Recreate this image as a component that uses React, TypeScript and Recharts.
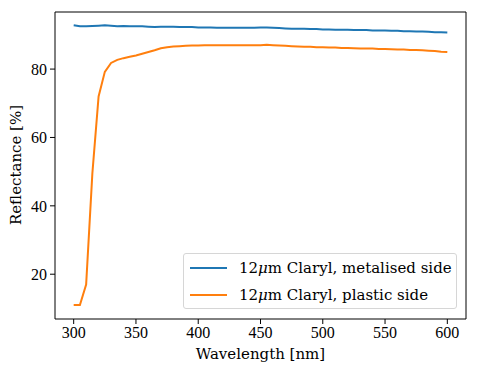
import React from 'react';
import { LineChart, Line, XAxis, YAxis, ReferenceLine } from 'recharts';

const wavelengths = [
  300, 305, 310, 315, 320, 325, 330, 335, 340, 345, 350, 355, 360, 365, 370, 375, 380, 385, 390, 395,
  400, 405, 410, 415, 420, 425, 430, 435, 440, 445, 450, 455, 460, 465, 470, 475, 480, 485, 490, 495,
  500, 505, 510, 515, 520, 525, 530, 535, 540, 545, 550, 555, 560, 565, 570, 575, 580, 585, 590, 595, 600,
];

const metalised = [
  92.8, 92.5, 92.5, 92.6, 92.7, 92.8, 92.7, 92.5, 92.6, 92.5, 92.5, 92.5, 92.4, 92.3, 92.4, 92.4, 92.4, 92.3, 92.3, 92.3,
  92.2, 92.2, 92.2, 92.1, 92.1, 92.1, 92.1, 92.1, 92.1, 92.1, 92.2, 92.2, 92.1, 92.0, 91.9, 91.8, 91.8, 91.8, 91.7, 91.7,
  91.6, 91.6, 91.5, 91.5, 91.5, 91.4, 91.4, 91.4, 91.3, 91.3, 91.3, 91.2, 91.2, 91.1, 91.1, 91.0, 91.0, 90.9, 90.8, 90.8, 90.7,
];

const plastic = [
  11.0, 11.0, 17.0, 49.5, 72.0, 79.2, 81.8, 82.7, 83.2, 83.6, 84.0, 84.5, 85.0, 85.5, 86.1, 86.4, 86.6, 86.7, 86.8, 86.9,
  86.9, 87.0, 87.0, 87.0, 87.0, 87.0, 87.0, 87.0, 87.0, 87.0, 87.0, 87.1, 87.0, 86.9, 86.8, 86.7, 86.6, 86.5, 86.5, 86.4,
  86.4, 86.3, 86.3, 86.2, 86.2, 86.1, 86.0, 86.0, 86.0, 85.9, 85.9, 85.8, 85.7, 85.7, 85.6, 85.6, 85.5, 85.4, 85.3, 85.1, 85.0,
];

const xTicks = [300, 350, 400, 450, 500, 550, 600];
const yTicks = [20, 40, 60, 80];
const xDomain = [285, 615];
const yDomain = [6.9, 96.7];

const seriesNames = ['Claryl, metalised side', 'Claryl, plastic side'];
const colors = ['#1f77b4', '#ff7f0e'];

const data = wavelengths.map((w, i) => ({ w, metalised: metalised[i], plastic: plastic[i] }));

const tickFont = { fontFamily: 'Liberation Serif', fontSize: 16, fill: '#000' };
const labelFont = 'DejaVu Serif';

export default function App() {
  return (
    <div style={{ position: 'absolute', left: 0, top: 0, width: 478, height: 374, background: '#fff' }}>
      <LineChart width={478} height={374} data={data} margin={{ top: 12, right: 12, left: 0, bottom: 0 }}>
        <XAxis
          dataKey="w"
          type="number"
          domain={xDomain}
          ticks={xTicks}
          allowDataOverflow
          height={55}
          stroke="#000"
          tickSize={5}
          tickMargin={3}
          tick={tickFont}
          label={{
            content: () => (
              <text x={260.5} y={359} textAnchor="middle" fontFamily={labelFont} fontSize={15} fill="#000">
                Wavelength [nm]
              </text>
            ),
          }}
        />
        <YAxis
          type="number"
          domain={yDomain}
          ticks={yTicks}
          allowDataOverflow
          width={55}
          stroke="#000"
          tickSize={5}
          tickMargin={3}
          tick={tickFont}
          label={{
            content: () => (
              <text
                transform="translate(21,165) rotate(-90)"
                textAnchor="middle"
                fontFamily={labelFont}
                fontSize={15}
                fill="#000"
              >
                Reflectance [%]
              </text>
            ),
          }}
        />
        {/* top and right spines */}
        <ReferenceLine y={yDomain[1]} stroke="#000" strokeWidth={1} />
        <ReferenceLine x={xDomain[1]} stroke="#000" strokeWidth={1} />
        <Line dataKey="metalised" stroke={colors[0]} strokeWidth={2} dot={false} isAnimationActive={false} />
        <Line dataKey="plastic" stroke={colors[1]} strokeWidth={2} dot={false} isAnimationActive={false} />
      </LineChart>
      <div
        style={{
          position: 'absolute',
          left: 183,
          top: 253,
          width: 272,
          height: 54,
          border: '1px solid #d6d6d6',
          borderRadius: 3,
          background: 'rgba(255,255,255,0.8)',
          fontFamily: labelFont,
          fontSize: 15,
          color: '#000',
        }}
      >
        {seriesNames.map((name, i) => (
          <div key={name} style={{ position: 'absolute', left: 0, top: 4 + i * 26.6, height: 20, width: 272 }}>
            <div style={{ position: 'absolute', left: 6, top: 9, width: 37, height: 2, background: colors[i] }} />
            <div style={{ position: 'absolute', left: 55, top: 0, lineHeight: '20px', whiteSpace: 'nowrap' }}>
              12<i>μ</i>m {name}
            </div>
          </div>
        ))}
      </div>
    </div>
  );
}
